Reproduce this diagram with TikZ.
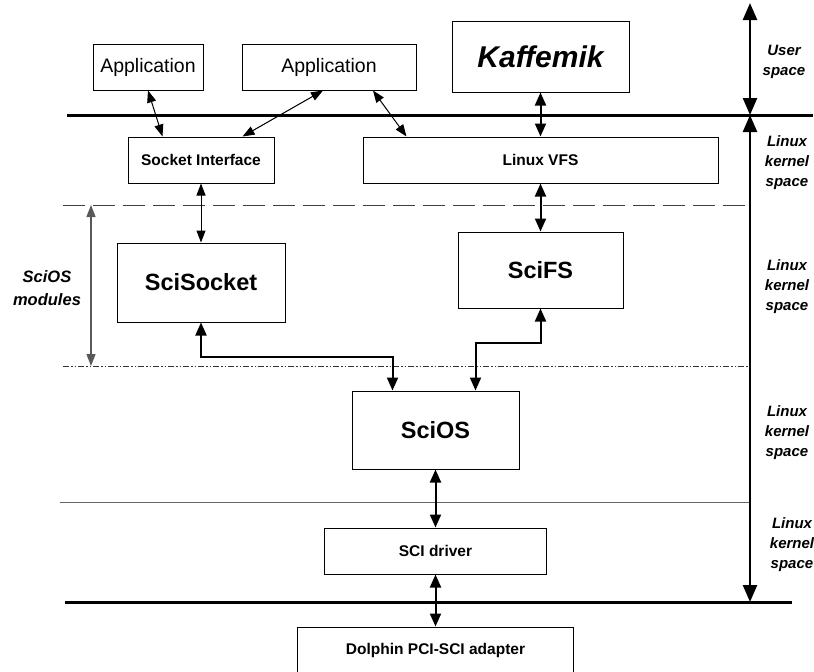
\documentclass[tikz,border=0pt]{standalone}
\usepackage{fontspec}
\setmainfont{Liberation Sans}
\usepackage{tikz}
\usetikzlibrary{arrows.meta}

\tikzset{
  box/.style={draw,line width=1pt,inner sep=0pt,align=center},
  lnk/.style={line width=1pt,{Triangle[length=12pt,width=9pt]}-{Triangle[length=12pt,width=9pt]}},
  blnk/.style={line width=2pt,{Triangle[length=13pt,width=11pt]}-{Triangle[length=13pt,width=11pt]}},
  ax/.style={line width=2.5pt,{Triangle[length=17pt,width=14pt]}-{Triangle[length=17pt,width=14pt]}},
  side/.style={font=\fontsize{15}{20}\selectfont\bfseries\itshape,align=center}
}

\begin{document}
\begin{tikzpicture}[x=1pt,y=-1pt]
      \useasboundingbox (0,0) rectangle (814,672);
      \node[box,minimum width=110pt,minimum height=46pt,font=\fontsize{19.5}{23}\selectfont] (app1) at (148,67) {Application};
      \node[box,minimum width=174pt,minimum height=46pt,font=\fontsize{19.5}{23}\selectfont] (app2) at (329,67) {Application};
      \node[box,minimum width=177pt,minimum height=71pt,font=\fontsize{30}{33}\selectfont\bfseries\itshape] (kaff) at (540.5,56.5) {Kaffemik};
      \node[box,minimum width=146pt,minimum height=46pt,font=\fontsize{15.5}{18}\selectfont\bfseries] (sock) at (201,160) {Socket Interface};
      \node[box,minimum width=355pt,minimum height=46pt,font=\fontsize{15.5}{18}\selectfont\bfseries] (vfs) at (540.5,160) {Linux VFS};
      \node[box,minimum width=168pt,minimum height=79pt,font=\fontsize{23.5}{27}\selectfont\bfseries] (scisock) at (201,282.5) {SciSocket};
      \node[box,minimum width=165pt,minimum height=76pt,font=\fontsize{23.5}{27}\selectfont\bfseries] (scifs) at (540.5,270) {SciFS};
      \node[box,minimum width=167pt,minimum height=78pt,font=\fontsize{23.5}{27}\selectfont\bfseries] (scios) at (435.5,430) {SciOS};
      \node[box,minimum width=222pt,minimum height=46pt,font=\fontsize{15.5}{18}\selectfont\bfseries] (drv) at (435.5,551) {SCI driver};
      \node[box,minimum width=276pt,minimum height=46pt,font=\fontsize{15.5}{18}\selectfont\bfseries] (dolph) at (435.5,650) {Dolphin PCI-SCI adapter};

      \node[side] (usr) at (784,62) {User\\space};
      \node[side] (k1) at (787,163) {Linux\\kernel\\space};
      \node[side] (k2) at (787,287) {Linux\\kernel\\space};
      \node[side] (k3) at (787,433) {Linux\\kernel\\space};
      \node[side] (k4) at (792,545) {Linux\\kernel\\space};
      \node[side,font=\fontsize{16.5}{23}\selectfont\bfseries\itshape] (mods) at (47,288) {SciOS\\modules};

      \coordinate (t0) at (750,3);
      \coordinate (t1) at (750,115);
      \coordinate (t2) at (750,602);
      \draw[line width=3pt] (67,115) -- (813,115);
      \draw[line width=3pt] (65,602) -- (792,602);
      \draw[line width=1pt,black!75,dash pattern=on 22pt off 8pt] (63,205) -- (750,205);
      \draw[line width=1pt,black!80,dash pattern=on 6pt off 2pt on 1.5pt off 2pt on 1.5pt off 2pt] (63,366) -- (750,366);
      \draw[line width=1pt,black!60] (60,502) -- (750,502);
      \draw[ax] (t0) -- (t1);
      \draw[ax] (t1) -- (t2);
      \draw[lnk,black!65,line width=1.3pt] (91,205) -- (91,366);

      \draw[lnk] (app1.south) -- ([xshift=35pt]sock.north west);
      \draw[lnk] ([xshift=-6pt]app2.south) -- ([xshift=-32pt]sock.north east);
      \draw[lnk] ([xshift=44pt]app2.south) -- ([xshift=44pt]vfs.north west);
      \draw[blnk] (kaff.south) -- (vfs.north);
      \draw[lnk] (sock.south) -- (scisock.north);
      \draw[blnk] (vfs.south) -- (scifs.north);
      \draw[blnk] (scisock.south) -- ++(0,34) -| ([xshift=41pt]scios.north west);
      \draw[blnk] (scifs.south) -- ++(0,34) -| ([xshift=-44pt]scios.north east);
      \draw[blnk] (scios.south) -- (drv.north);
      \draw[blnk] (drv.south) -- (dolph.north);
    \end{tikzpicture}
\end{document}
